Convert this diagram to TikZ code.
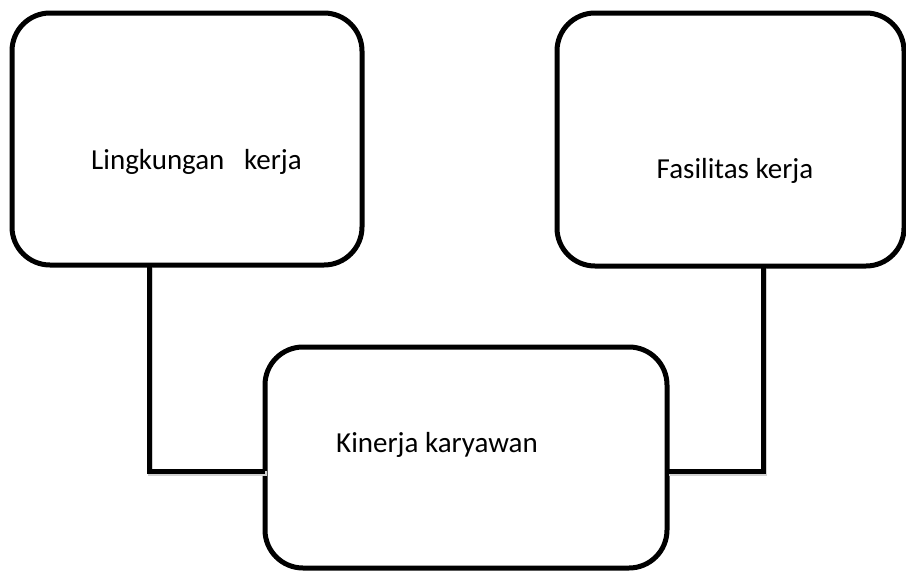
\documentclass[tikz,border=0pt]{standalone}
\usepackage{fontspec}
\setmainfont{Carlito}
\begin{document}
\begin{tikzpicture}[x=1pt,y=-1pt,
  box/.style={draw=black, line width=5pt, fill=white, rounded corners=38pt,
    outer sep=0pt, inner sep=0pt, anchor=center},
  lbl/.style={font=\fontsize{29}{34}\selectfont, anchor=base, inner sep=0pt},
  conn/.style={draw=black, line width=5pt,
    preaction={draw=black!18, line width=5pt, transform canvas={shift={(1.5pt,-2.5pt)}}}}]
\useasboundingbox[fill=white] (0,0) rectangle (906,571);
\node[box, minimum width=350pt, minimum height=252pt] (L) at (187,139) {};
\node[box, minimum width=347pt, minimum height=253pt] (R) at (730.5,139.5) {};
\node[box, minimum width=402pt, minimum height=221pt] (K) at (466,457.5) {};
\node[lbl] (tL) at (196.5,169) {Lingkungan\ \ \ kerja};
\node[lbl] (tR) at (735,178) {Fasilitas kerja};
\node[lbl] (tK) at (437,452) {Kinerja karyawan};
\coordinate (lb) at (149,471);
\coordinate (rb) at (763,471);
\draw[conn] (L.south -| lb) |- (K.west |- lb);
\draw[conn] (R.south -| rb) |- (K.east |- rb);
\end{tikzpicture}
\end{document}
